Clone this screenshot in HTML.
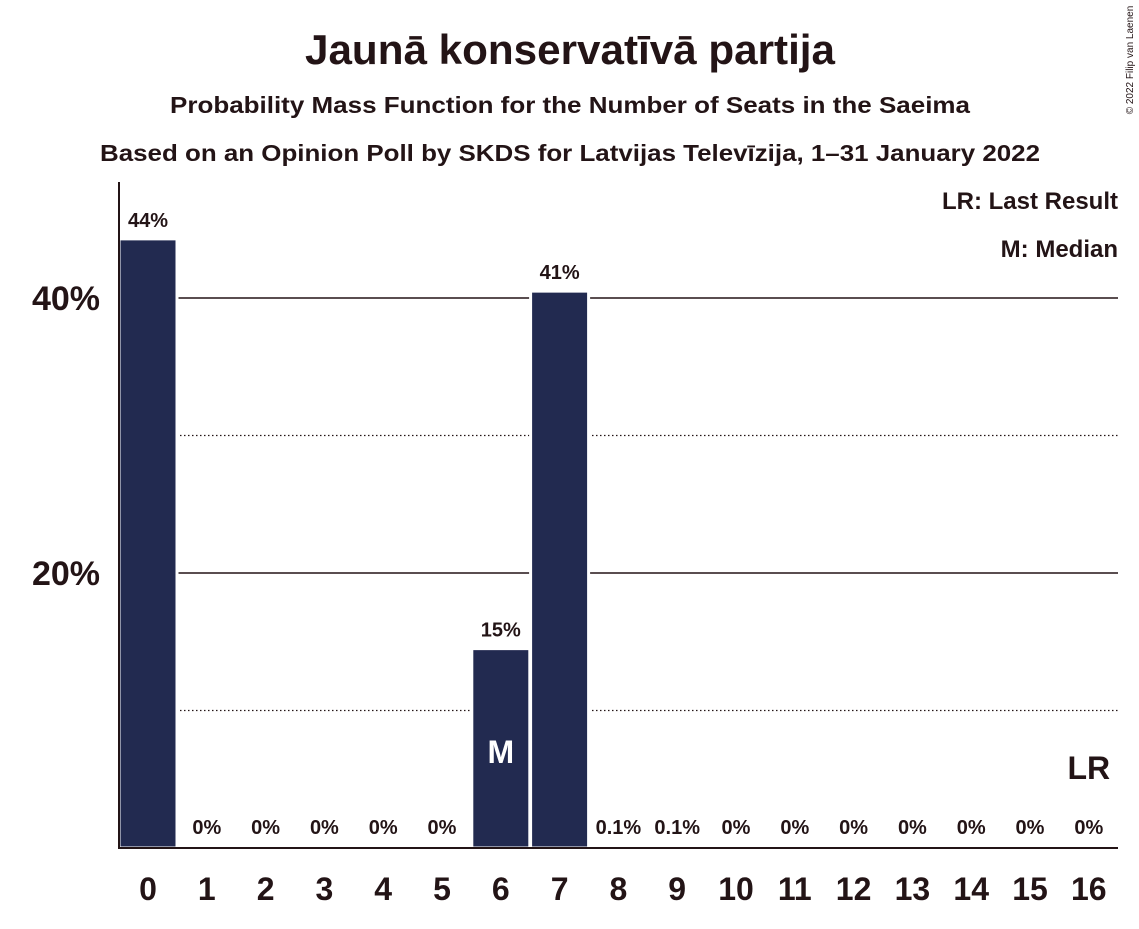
<!DOCTYPE html>
<html><head><meta charset="utf-8"><style>
body{margin:0;background:#fff;font-family:"Liberation Sans",sans-serif;}
svg text{font-family:"Liberation Sans",sans-serif;fill:#231416;}
</style></head><body>
<svg id="chart" width="1139" height="924" xmlns="http://www.w3.org/2000/svg">
<text x="305" y="64" textLength="530" lengthAdjust="spacingAndGlyphs" font-size="42" font-weight="bold">Jaunā konservatīvā partija</text>
<text x="170" y="113" textLength="800" lengthAdjust="spacingAndGlyphs" font-size="23" font-weight="bold">Probability Mass Function for the Number of Seats in the Saeima</text>
<text x="100" y="161" textLength="940" lengthAdjust="spacingAndGlyphs" font-size="23" font-weight="bold">Based on an Opinion Poll by SKDS for Latvijas Televīzija, 1–31 January 2022</text>
<text x="1133" y="60" font-size="10" transform="rotate(-90 1133 60)" text-anchor="middle">© 2022 Filip van Laenen</text>
<text x="1118" y="209" text-anchor="end" font-size="24" font-weight="bold">LR: Last Result</text>
<text x="1118" y="257" text-anchor="end" font-size="24" font-weight="bold">M: Median</text>
<g id="grid"></g><g id="bars"></g><g id="labels"></g>
<line x1="119" y1="182" x2="119" y2="849" stroke="#231416" stroke-width="2"/>
<line x1="118" y1="848" x2="1118" y2="848" stroke="#231416" stroke-width="2"/>
</svg>
<script>
const categories=[0,1,2,3,4,5,6,7,8,9,10,11,12,13,14,15,16];
const values=[44.3,0,0,0,0,0,14.5,40.5,0.1,0.1,0,0,0,0,0,0,0];
const valueLabels=["44%","0%","0%","0%","0%","0%","15%","41%","0.1%","0.1%","0%","0%","0%","0%","0%","0%","0%"];
const yTicks=[20,40];
const yMinor=[10,30];
const medianSeat=6, lastResultSeat=16;
const NS="http://www.w3.org/2000/svg";
const x=c=>148+c*58.8;
const y=v=>848-v*13.75;
function mk(t,a,p){const e=document.createElementNS(NS,t);for(const k in a)e.setAttribute(k,a[k]);document.getElementById(p).appendChild(e);return e;}
yMinor.forEach(v=>{const l=mk('line',{x1:120,x2:1118,y1:y(v),y2:y(v),stroke:'#231416','stroke-width':1.2,'stroke-dasharray':'1.5,2.5'},'grid');

});
yTicks.forEach(v=>{const l=mk('line',{x1:120,x2:1118,y1:y(v),y2:y(v),stroke:'#231416','stroke-width':1.5},'grid');


const t=mk('text',{x:100,y:y(v)+12,'text-anchor':'end','font-size':34,'font-weight':'bold'},'labels');t.textContent=v+'%';

});
categories.forEach((c,i)=>{
 const h=values[i]*13.75;
 if(values[i]>0.5){const r=mk('rect',{x:x(c)-29,y:y(values[i]),width:58,height:h,fill:'#222a50',stroke:'#fff','stroke-width':3},'bars');
 
 }
 const t=mk('text',{x:x(c),y:values[i]>0.5?y(values[i])-12:834,'text-anchor':'middle','font-size':20,'font-weight':'bold'},'labels');t.textContent=valueLabels[i];
 
 
 const xt=mk('text',{x:x(c),y:900,'text-anchor':'middle','font-size':32,'font-weight':'bold'},'labels');xt.textContent=c;
 
 
});
const m=mk('text',{x:x(medianSeat),y:763,'text-anchor':'middle','font-size':32,'font-weight':'bold',style:'fill:#fff'},'labels');m.textContent='M';


const lr=mk('text',{x:x(lastResultSeat),y:779,'text-anchor':'middle','font-size':32,'font-weight':'bold'},'labels');lr.textContent='LR';


</script>
</body></html>
